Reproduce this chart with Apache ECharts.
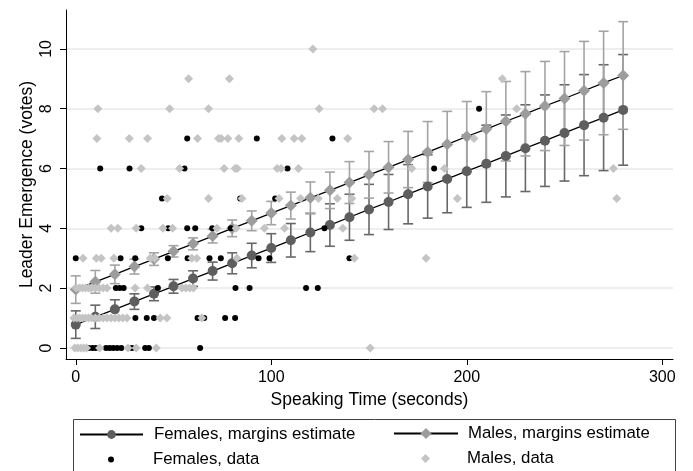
<!DOCTYPE html>
<html>
<head>
<meta charset="utf-8">
<script src="https://cdn.jsdelivr.net/npm/echarts@6/dist/echarts.min.js"></script>
<style>
html,body{margin:0;padding:0;background:#fff;}
#main{width:693px;height:471px;}
</style>
</head>
<body>
<div id="main"></div>
<script>
// margins estimates, every 10 seconds
var estX = [0,10,20,30,40,50,60,70,80,90,100,110,120,130,140,150,160,170,180,190,200,210,220,230,240,250,260,270,280];
var femaleEst = [0.78,1.04,1.29,1.55,1.81,2.06,2.32,2.57,2.83,3.09,3.34,3.60,3.86,4.11,4.37,4.63,4.88,5.14,5.40,5.65,5.91,6.16,6.42,6.68,6.93,7.19,7.45,7.70,7.96];
var femaleCI  = [0.46,0.39,0.32,0.26,0.23,0.23,0.26,0.30,0.35,0.41,0.48,0.56,0.64,0.71,0.77,0.84,0.92,0.99,1.06,1.13,1.21,1.29,1.37,1.45,1.53,1.61,1.69,1.77,1.85];
var maleEst   = [1.95,2.21,2.46,2.72,2.97,3.23,3.48,3.74,4.00,4.25,4.51,4.76,5.02,5.27,5.53,5.79,6.04,6.30,6.55,6.81,7.07,7.32,7.58,7.83,8.09,8.34,8.60,8.86,9.11];
var maleCI    = [0.46,0.38,0.31,0.25,0.21,0.19,0.20,0.23,0.28,0.33,0.39,0.45,0.53,0.61,0.70,0.78,0.86,0.94,1.02,1.10,1.17,1.25,1.33,1.41,1.49,1.57,1.65,1.73,1.80];

// raw data points [speaking time, votes]
var femaleData = [
  [206.3,8],
  [57.0,7],[92.6,7],[131.3,7],
  [12.5,6],[27.5,6],[55.6,6],[108.3,6],[183.3,6],
  [44.1,5],[84.1,5],[102.0,5],
  [33.5,4],[47.3,4],[57.0,4],[61.1,4],[69.8,4],[79.3,4],[127.2,4],
  [0,3],[22.9,3],[30.4,3],[47.1,3],[57.2,3],[68.4,3],[74.2,3],[93.5,3],[99.1,3],[140.0,3],
  [1.9,2],[20.5,2],[22.5,2],[24.5,2],[42.0,2],[81.7,2],[88.9,2],[117.8,2],[123.8,2],
  [30.5,1],[36.3,1],[40.0,1],[62.3,1],[65.7,1],[76.4,1],[81.5,1],
  [6.6,0],[8.5,0],[10.2,0],[15.5,0],[17.3,0],[19.2,0],[21.2,0],[23.3,0],[28.7,0],[35.5,0],[37.4,0],[63.6,0]
];
var maleData = [
  [121.3,10],
  [57.7,9],[78.6,9],[218.2,9],
  [11.3,8],[48.0,8],[67.9,8],[124.5,8],[152.6,8],[156.9,8],[225.5,8],
  [10.8,7],[27.4,7],[36.7,7],[62.3,7],[73.0,7],[74.4,7],[77.8,7],[83.4,7],[105.4,7],[111.7,7],[115.6,7],[139.1,7],[203.7,7],
  [33.5,6],[53.1,6],[75.9,6],[81.5,6],[82.6,6],[103.0,6],[105.0,6],[113.9,6],[171.9,6],[188.6,6],[275.0,6],
  [46.8,5],[67.9,5],[85.0,5],[104.0,5],[115.0,5],[124.1,5],[133.8,5],[141.2,5],[195.2,5],[276.7,5],
  [18.1,4],[21.5,4],[30.9,4],[44.6,4],[49.5,4],[72.2,4],[82.0,4],[96.5,4],[106.8,4],[136.6,4],
  [3.7,3],[10.5,3],[13.0,3],[19.5,3],[38.1,3],[40.3,3],[59.4,3],[61.9,3],[82.4,3],[142.5,3],[179.2,3],
  [0.3,2],[2.0,2],[3.5,2],[5.0,2],[6.5,2],[8.0,2],[10.0,2],[12.0,2],[14.0,2],[16.0,2],[30.4,2],[36.7,2],[54.3,2],[56.3,2],[58.3,2],[60.2,2],
  [-1.0,1],[0.5,1],[2.0,1],[3.5,1],[5.0,1],[6.5,1],[8.0,1],[10.0,1],[12.0,1],[14.0,1],[16.0,1],[18.0,1],[20.0,1],[22.0,1],[24.0,1],[26.2,1],[43.2,1],[46.6,1],[64.5,1],
  [-0.5,0],[1.0,0],[2.5,0],[4.0,0],[5.5,0],[12.2,0],[26.7,0],[30.9,0],[41.2,0],[150.6,0]
];

var xTicks = [0,100,200,300];
var yTicks = [0,2,4,6,8,10];

var FONT = 'Liberation Sans, Arial, sans-serif';

function pairs(xs, ys){
    var out = [];
    for (var i = 0; i < xs.length; i++) out.push([xs[i], ys[i]]);
    return out;
}
function ciRows(xs, ys, half){
    var out = [];
    for (var i = 0; i < xs.length; i++) out.push([xs[i], ys[i] - half[i], ys[i] + half[i]]);
    return out;
}
function errorBar(color){
    return function(params, api){
        var x = api.value(0);
        var lo = api.coord([x, api.value(1)]);
        var hi = api.coord([x, api.value(2)]);
        var w = 5;
        var st = {stroke: color, lineWidth: 1.6};
        return {type: 'group', children: [
            {type: 'line', shape: {x1: lo[0], y1: lo[1], x2: hi[0], y2: hi[1]}, style: st},
            {type: 'line', shape: {x1: lo[0]-w, y1: lo[1], x2: lo[0]+w, y2: lo[1]}, style: st},
            {type: 'line', shape: {x1: hi[0]-w, y1: hi[1], x2: hi[0]+w, y2: hi[1]}, style: st}
        ]};
    };
}

var femColor = '#5e5e5e';
var maleColor = '#9c9c9c';
var femBar = '#686868';
var maleBar = '#a4a4a4';

var chart = echarts.init(document.getElementById('main'));
function legendText(padLeft){
    return {color: '#000', fontSize: 16.8, fontFamily: FONT, padding: [0, 0, 0, padLeft]};
}

chart.setOption({
    animation: false,
    backgroundColor: '#fff',
    textStyle: {fontFamily: FONT},
    grid: {left: 66, right: 20, top: 10, bottom: 112},
    xAxis: {
        type: 'value', min: -5.0, max: 305.5,
        name: 'Speaking Time (seconds)', nameLocation: 'middle', nameGap: 27,
        nameTextStyle: {color: '#000', fontSize: 17.5, fontFamily: FONT},
        axisLine: {onZero: false, lineStyle: {color: '#000', width: 1}},
        axisTick: {length: 6, customValues: xTicks, lineStyle: {color: '#000'}},
        axisLabel: {customValues: xTicks, color: '#000', fontSize: 16, fontFamily: FONT, margin: 11},
        splitLine: {show: false}
    },
    yAxis: {
        type: 'value', min: -0.37, max: 11.3,
        name: 'Leader Emergence (votes)', nameLocation: 'middle', nameGap: 30, nameRotate: 90,
        nameMoveOverlap: false,
        nameTextStyle: {color: '#000', fontSize: 17.5, fontFamily: FONT},
        axisLine: {show: true, onZero: false, lineStyle: {color: '#000', width: 1}},
        axisTick: {show: true, length: 6, customValues: yTicks, lineStyle: {color: '#000'}},
        axisLabel: {customValues: yTicks, rotate: 90, color: '#000', fontSize: 16, fontFamily: FONT, margin: 11},
        splitLine: {show: true, lineStyle: {color: '#e8e8e8', width: 1.5}}
    },
    legend: [
        {data: ['Females, margins estimate'], left: 79, top: 426, padding: 0, itemWidth: 63, itemHeight: 11, textStyle: legendText(6)},
        {data: ['Males, margins estimate'], left: 393, top: 425, padding: 0, itemWidth: 64, itemHeight: 14, textStyle: legendText(5)},
        {data: [{name: 'Females, data', icon: 'circle'}], left: 108, top: 451, padding: 0, itemWidth: 6, itemHeight: 6, textStyle: legendText(34)},
        {data: [{name: 'Males, data', icon: 'diamond'}], left: 421, top: 450, padding: 0, itemWidth: 9, itemHeight: 9, textStyle: legendText(32)}
    ],
    graphic: [{
        type: 'rect', left: 71, top: 417,
        shape: {width: 602, height: 70},
        style: {fill: 'none', stroke: '#404040', lineWidth: 1}
    }],
    series: [
        {
            name: 'Females CI', type: 'custom', renderItem: errorBar(femBar),
            data: ciRows(estX, femaleEst, femaleCI), encode: {x: 0, y: [1, 2]}, z: 2
        },
        {
            name: 'Males CI', type: 'custom', renderItem: errorBar(maleBar),
            data: ciRows(estX, maleEst, maleCI), encode: {x: 0, y: [1, 2]}, z: 2
        },
        {
            name: 'Females, margins estimate', type: 'line', data: pairs(estX, femaleEst),
            symbol: 'circle', symbolSize: 10, z: 3,
            itemStyle: {color: femColor},
            lineStyle: {color: '#000', width: 1.3}
        },
        {
            name: 'Males, margins estimate', type: 'line', data: pairs(estX, maleEst),
            symbol: 'diamond', symbolSize: 12, z: 3,
            itemStyle: {color: maleColor},
            lineStyle: {color: '#000', width: 1.3}
        },
        {
            name: 'Females, data', type: 'scatter', data: femaleData,
            symbol: 'circle', symbolSize: 6, z: 4,
            itemStyle: {color: '#000', opacity: 1}
        },
        {
            name: 'Males, data', type: 'scatter', data: maleData,
            symbol: 'diamond', symbolSize: 9, z: 4,
            itemStyle: {color: '#c4c4c4', opacity: 1}
        }
    ]
});
</script>
</body>
</html>
